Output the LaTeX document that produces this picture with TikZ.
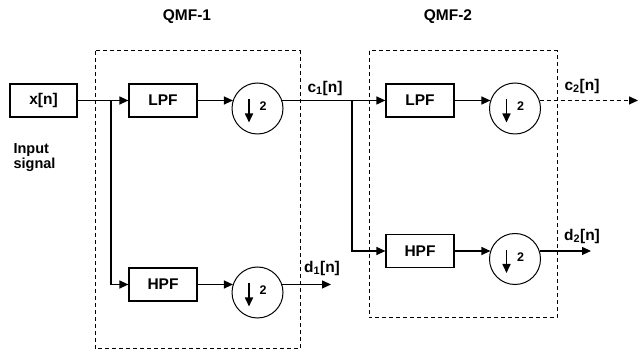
\documentclass[tikz,border=0pt]{standalone}
\usepackage{fontspec}
\setmainfont{Liberation Sans}
\usetikzlibrary{arrows.meta,calc}
\begin{document}
\begin{tikzpicture}[x=1pt,y=-1pt,
  font=\fontsize{15.5}{18}\selectfont\bfseries,
  line width=1.2pt,
  arr/.style={-{Triangle[length=9pt,width=8pt]}},
  blk/.style={draw,rectangle,minimum width=68pt,minimum height=33pt,inner sep=0pt},
  dsc/.style={draw,circle,minimum size=51pt,inner sep=0pt,line width=1pt},
  qmf/.style={dashed,dash pattern=on 4pt off 3pt,line width=1pt},
  lbl/.style={inner sep=0pt}]
\useasboundingbox (0,0) rectangle (640,352);
% dashed boxes
\draw[qmf] (95,51) rectangle (300,349);
\draw[qmf] (369,51) rectangle (557,318);
\node[lbl] (q1) at (187,17) {QMF-1};
\node[lbl] (q2) at (448,17) {QMF-2};
% blocks
\node[blk,minimum width=67pt] (xn) at (43.5,100.5) {x[n]};
\node[lbl,align=left,anchor=north west,font=\fontsize{14.5}{13}\selectfont\bfseries] (inp) at (13,143) {Input\\signal};
\node[blk] (lpf1) at (163,100.5) {LPF};
\node[blk] (hpf1) at (163,284.5) {HPF};
\node[blk] (lpf2) at (420,100.5) {LPF};
\node[blk] (hpf2) at (420,251) {HPF};
\node[dsc] (c1) at (257.5,108.5) {};
\node[dsc] (c2) at (257.5,292.5) {};
\node[dsc] (c3) at (515,108.5) {};
\node[dsc] (c4) at (515,259) {};
\foreach \c in {c1,c2,c3,c4}{
  \draw[-{Triangle[length=9pt,width=8pt]},line width=1.6pt] ($(\c.center)+(-8.5,-9)$) -- ($(\c.center)+(-8.5,14)$);
  \node[lbl,font=\fontsize{12.5}{13}\selectfont\bfseries] at ($(\c.center)+(5.5,-2)$) {2};
}
% coordinates
\coordinate (j1) at (111,100.5);
\coordinate (j2) at (352,100.5);
\coordinate (e1) at (331,284.5);
\coordinate (e2) at (638,100.5);
\coordinate (e3) at (591,251);
% connectors
\draw[arr] (xn.east) -- (lpf1.west);
\draw[arr] (j1) |- (hpf1.west);
\draw[arr] (lpf1.east) -- (lpf1.east -| c1.161.7);
\draw[arr] (hpf1.east) -- (hpf1.east -| c2.161.7);
\draw[arr] (c1.18.3) -- (c1.18.3 -| lpf2.west);
\draw[arr] (j2) |- (hpf2.west);
\draw[arr] (c2.18.3) -- (c2.18.3 -| e1);
\draw[arr] (lpf2.east) -- (lpf2.east -| c3.161.7);
\draw[arr] (hpf2.east) -- (hpf2.east -| c4.161.7);
\draw[arr,dashed,dash pattern=on 4pt off 3pt] (c3.18.3) -- (c3.18.3 -| e2);
\draw[arr] (c4.18.3) -- (c4.18.3 -| e3);
% labels
\node[lbl] (l1) at (325,88) {c\textsubscript{1}[n]};
\node[lbl] (l2) at (322,268) {d\textsubscript{1}[n]};
\node[lbl] (l3) at (582,86) {c\textsubscript{2}[n]};
\node[lbl] (l4) at (582,236) {d\textsubscript{2}[n]};
\end{tikzpicture}
\end{document}
